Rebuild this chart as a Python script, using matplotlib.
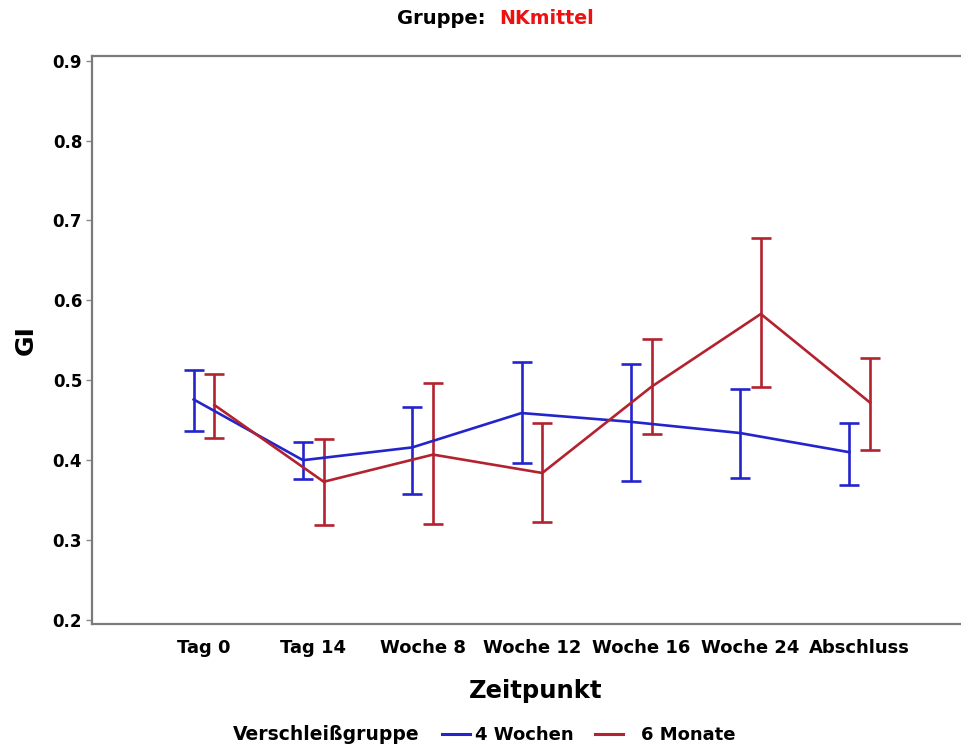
import numpy as np
import matplotlib
matplotlib.use('Agg')
import matplotlib.pyplot as plt
from matplotlib.lines import Line2D

plt.rcParams['font.family'] = ['DejaVu Sans']
plt.rcParams['font.weight'] = 'bold'

zeitpunkte = ['Tag 0', 'Tag 14', 'Woche 8', 'Woche 12', 'Woche 16', 'Woche 24', 'Abschluss']

# mean GI with lower / upper error bar ends
wochen4_mean = [0.476, 0.400, 0.416, 0.459, 0.448, 0.434, 0.410]
wochen4_low = [0.436, 0.376, 0.358, 0.396, 0.374, 0.378, 0.369]
wochen4_high = [0.513, 0.423, 0.467, 0.523, 0.521, 0.489, 0.447]

monate6_mean = [0.469, 0.373, 0.407, 0.384, 0.492, 0.583, 0.472]
monate6_low = [0.428, 0.319, 0.320, 0.323, 0.433, 0.491, 0.413]
monate6_high = [0.508, 0.426, 0.497, 0.447, 0.552, 0.678, 0.528]

blue = '#2424cc'
red = '#b3222f'

fig = plt.figure(figsize=(9.61, 7.49), dpi=100)
ax = fig.add_axes([0.0957, 0.1669, 0.924, 0.7585])

x = np.arange(len(zeitpunkte))
groups = [
    (wochen4_mean, wochen4_low, wochen4_high, blue, -0.095),
    (monate6_mean, monate6_low, monate6_high, red, 0.095),
]
for mean, low, high, col, off in groups:
    mean = np.array(mean)
    err = [mean - np.array(low), np.array(high) - mean]
    ax.errorbar(x + off, mean, yerr=err, color=col, lw=1.9, elinewidth=1.9,
                capsize=7, capthick=1.9)

ax.set_xlim(-1.026, 7.1)
ax.set_ylim(0.195, 0.906)
ax.set_yticks([0.2, 0.3, 0.4, 0.5, 0.6, 0.7, 0.8, 0.9])
ax.set_yticklabels(['0.2', '0.3', '0.4', '0.5', '0.6', '0.7', '0.8', '0.9'])
ax.set_xticks(x)
ax.set_xticklabels(zeitpunkte)
ax.tick_params(axis='x', length=0, pad=11, labelsize=13)
ax.tick_params(axis='y', length=4, width=1, color='#888888', pad=3, labelsize=12)

for s in ['left', 'top', 'bottom']:
    ax.spines[s].set_color('#7a7a7a')
    ax.spines[s].set_linewidth(1.6)
ax.spines['right'].set_visible(False)

ax.set_ylabel('GI', fontsize=18, fontweight='bold', labelpad=11)
ax.set_xlabel('Zeitpunkt', fontsize=17.5, fontweight='bold', labelpad=16)

# title in two colours
fig.text(486 / 961, 1 - 18 / 749, 'Gruppe:', ha='right', va='center',
         fontsize=14, fontweight='bold', color='black')
fig.text(499 / 961, 1 - 18 / 749, 'NKmittel', ha='left', va='center',
         fontsize=13.7, fontweight='bold', color='#ee1111')

# legend along the bottom, one entry per legend so the gaps can differ
leg_y = 1 - 735 / 749
fig.text(233 / 961, leg_y, 'Verschleißgruppe', ha='left', va='center',
         fontsize=13.5, fontweight='bold')
entries = [(blue, '4 Wochen', 442, 0.3), (red, '6 Monate', 595, 1.0)]
for col, lab, left, tpad in entries:
    fig.legend([Line2D([], [], color=col, lw=2.2)], [lab], loc='center left',
               bbox_to_anchor=(left / 961, leg_y), frameon=False,
               fontsize=13, handlelength=1.55, handletextpad=tpad,
               borderaxespad=0, borderpad=0)

fig.savefig('out.png', dpi=100, facecolor='white')
